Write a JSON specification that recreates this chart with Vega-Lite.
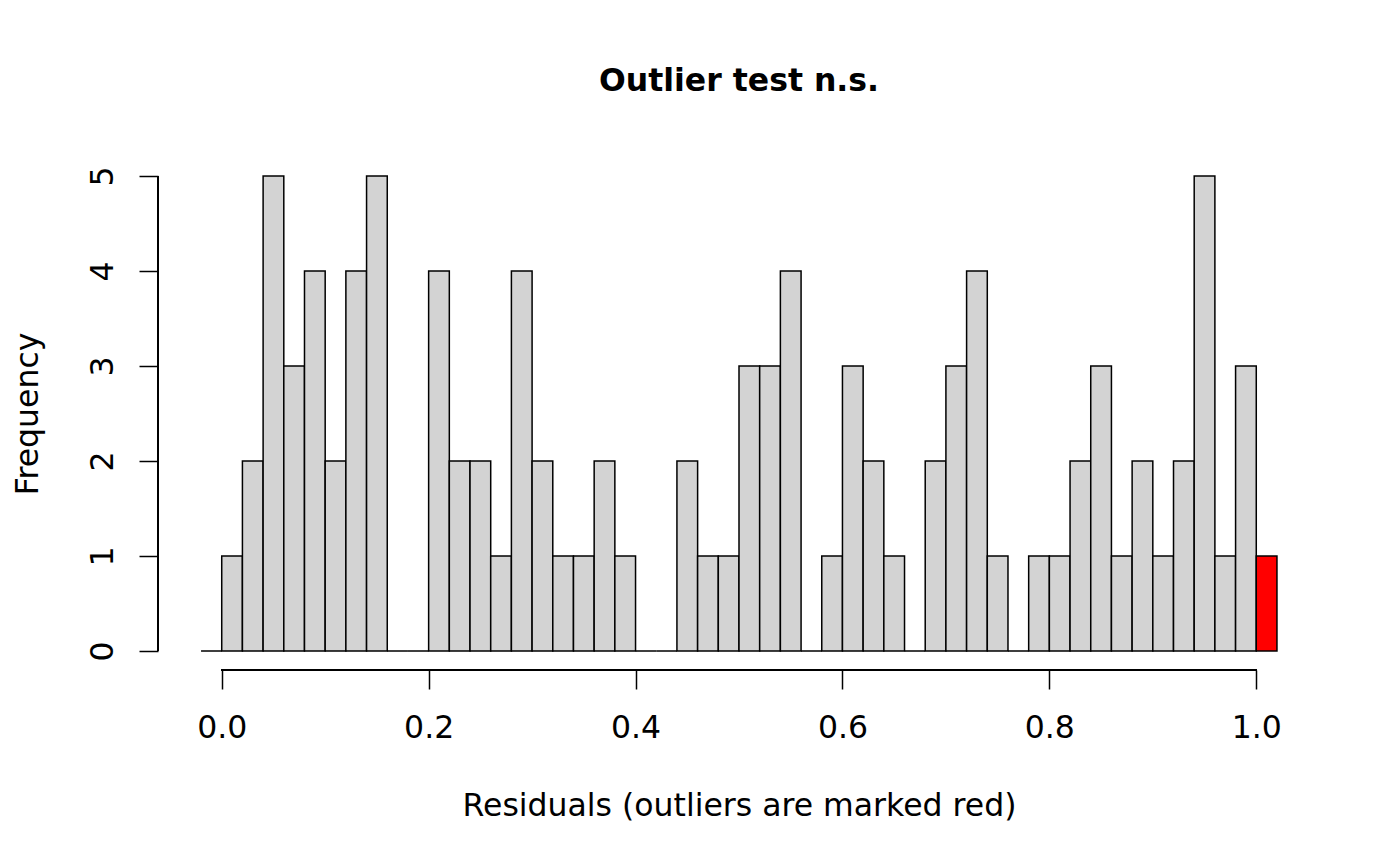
{
  "$schema": "https://vega.github.io/schema/vega-lite/v6.json",
  "autosize": "none",
  "width": 1162,
  "height": 513,
  "padding": {"left": 158, "top": 157, "right": 80, "bottom": 196},
  "background": "white",
  "config": {
    "view": {"stroke": null},
    "font": "DejaVu Sans"
  },
  "title": {
    "text": "Outlier test n.s.",
    "font": "DejaVu Sans",
    "fontSize": 31.5,
    "fontWeight": "bold",
    "color": "black",
    "anchor": "middle",
    "frame": "group",
    "baseline": "alphabetic",
    "offset": 35
  },
  "data": {
    "values": [
      {"bin_start": -0.02, "bin_end": 0.0, "count": 0, "type": "outlier"},
      {"bin_start": 0.00, "bin_end": 0.02, "count": 1, "type": "normal"},
      {"bin_start": 0.02, "bin_end": 0.04, "count": 2, "type": "normal"},
      {"bin_start": 0.04, "bin_end": 0.06, "count": 5, "type": "normal"},
      {"bin_start": 0.06, "bin_end": 0.08, "count": 3, "type": "normal"},
      {"bin_start": 0.08, "bin_end": 0.10, "count": 4, "type": "normal"},
      {"bin_start": 0.10, "bin_end": 0.12, "count": 2, "type": "normal"},
      {"bin_start": 0.12, "bin_end": 0.14, "count": 4, "type": "normal"},
      {"bin_start": 0.14, "bin_end": 0.16, "count": 5, "type": "normal"},
      {"bin_start": 0.16, "bin_end": 0.18, "count": 0, "type": "normal"},
      {"bin_start": 0.18, "bin_end": 0.20, "count": 0, "type": "normal"},
      {"bin_start": 0.20, "bin_end": 0.22, "count": 4, "type": "normal"},
      {"bin_start": 0.22, "bin_end": 0.24, "count": 2, "type": "normal"},
      {"bin_start": 0.24, "bin_end": 0.26, "count": 2, "type": "normal"},
      {"bin_start": 0.26, "bin_end": 0.28, "count": 1, "type": "normal"},
      {"bin_start": 0.28, "bin_end": 0.30, "count": 4, "type": "normal"},
      {"bin_start": 0.30, "bin_end": 0.32, "count": 2, "type": "normal"},
      {"bin_start": 0.32, "bin_end": 0.34, "count": 1, "type": "normal"},
      {"bin_start": 0.34, "bin_end": 0.36, "count": 1, "type": "normal"},
      {"bin_start": 0.36, "bin_end": 0.38, "count": 2, "type": "normal"},
      {"bin_start": 0.38, "bin_end": 0.40, "count": 1, "type": "normal"},
      {"bin_start": 0.40, "bin_end": 0.42, "count": 0, "type": "normal"},
      {"bin_start": 0.42, "bin_end": 0.44, "count": 0, "type": "normal"},
      {"bin_start": 0.44, "bin_end": 0.46, "count": 2, "type": "normal"},
      {"bin_start": 0.46, "bin_end": 0.48, "count": 1, "type": "normal"},
      {"bin_start": 0.48, "bin_end": 0.50, "count": 1, "type": "normal"},
      {"bin_start": 0.50, "bin_end": 0.52, "count": 3, "type": "normal"},
      {"bin_start": 0.52, "bin_end": 0.54, "count": 3, "type": "normal"},
      {"bin_start": 0.54, "bin_end": 0.56, "count": 4, "type": "normal"},
      {"bin_start": 0.56, "bin_end": 0.58, "count": 0, "type": "normal"},
      {"bin_start": 0.58, "bin_end": 0.60, "count": 1, "type": "normal"},
      {"bin_start": 0.60, "bin_end": 0.62, "count": 3, "type": "normal"},
      {"bin_start": 0.62, "bin_end": 0.64, "count": 2, "type": "normal"},
      {"bin_start": 0.64, "bin_end": 0.66, "count": 1, "type": "normal"},
      {"bin_start": 0.66, "bin_end": 0.68, "count": 0, "type": "normal"},
      {"bin_start": 0.68, "bin_end": 0.70, "count": 2, "type": "normal"},
      {"bin_start": 0.70, "bin_end": 0.72, "count": 3, "type": "normal"},
      {"bin_start": 0.72, "bin_end": 0.74, "count": 4, "type": "normal"},
      {"bin_start": 0.74, "bin_end": 0.76, "count": 1, "type": "normal"},
      {"bin_start": 0.76, "bin_end": 0.78, "count": 0, "type": "normal"},
      {"bin_start": 0.78, "bin_end": 0.80, "count": 1, "type": "normal"},
      {"bin_start": 0.80, "bin_end": 0.82, "count": 1, "type": "normal"},
      {"bin_start": 0.82, "bin_end": 0.84, "count": 2, "type": "normal"},
      {"bin_start": 0.84, "bin_end": 0.86, "count": 3, "type": "normal"},
      {"bin_start": 0.86, "bin_end": 0.88, "count": 1, "type": "normal"},
      {"bin_start": 0.88, "bin_end": 0.90, "count": 2, "type": "normal"},
      {"bin_start": 0.90, "bin_end": 0.92, "count": 1, "type": "normal"},
      {"bin_start": 0.92, "bin_end": 0.94, "count": 2, "type": "normal"},
      {"bin_start": 0.94, "bin_end": 0.96, "count": 5, "type": "normal"},
      {"bin_start": 0.96, "bin_end": 0.98, "count": 1, "type": "normal"},
      {"bin_start": 0.98, "bin_end": 1.00, "count": 3, "type": "normal"},
      {"bin_start": 1.00, "bin_end": 1.02, "count": 1, "type": "outlier"}
    ]
  },
  "layer": [
    {
      "mark": {"type": "rect", "stroke": "black", "strokeWidth": 1.5},
      "encoding": {
        "x": {
          "field": "bin_start",
          "type": "quantitative",
          "scale": {"domain": [-0.0616, 1.0616], "nice": false, "zero": false},
          "axis": {
            "title": "Residuals (outliers are marked red)",
            "values": [0, 0.2, 0.4, 0.6, 0.8, 1.0],
            "format": ".1f",
            "domain": false,
            "grid": false,
            "ticks": true,
            "tickSize": 19,
            "tickWidth": 1.5,
            "tickColor": "black",
            "labelFont": "DejaVu Sans",
            "labelFontSize": 31.5,
            "labelColor": "black",
            "labelBaseline": "alphabetic",
            "labelPadding": 48,
            "labelFlush": false,
            "labelOverlap": false,
            "titleFont": "DejaVu Sans",
            "titleFontSize": 31.5,
            "titleFontWeight": "normal",
            "titleColor": "black",
            "titleBaseline": "alphabetic",
            "titleAnchor": "middle",
            "titleX": 581,
            "titleY": 145
          }
        },
        "x2": {"field": "bin_end"},
        "y": {
          "field": "count",
          "type": "quantitative",
          "scale": {"domain": [-0.2, 5.2], "nice": false, "zero": false},
          "axis": {
            "title": "Frequency",
            "values": [0, 1, 2, 3, 4, 5],
            "format": "d",
            "domain": false,
            "grid": false,
            "ticks": true,
            "tickSize": 19,
            "tickWidth": 1.5,
            "tickColor": "black",
            "labelFont": "DejaVu Sans",
            "labelFontSize": 31.5,
            "labelColor": "black",
            "labelAngle": -90,
            "labelAlign": "center",
            "labelBaseline": "alphabetic",
            "labelPadding": 27,
            "labelFlush": false,
            "labelOverlap": false,
            "titleFont": "DejaVu Sans",
            "titleFontSize": 31.5,
            "titleFontWeight": "normal",
            "titleColor": "black",
            "titleAngle": -90,
            "titleBaseline": "alphabetic",
            "titleAlign": "center",
            "titleX": -121,
            "titleY": 256.5
          }
        },
        "y2": {"datum": 0},
        "fill": {
          "field": "type",
          "type": "nominal",
          "scale": {"domain": ["normal", "outlier"], "range": ["#D3D3D3", "#FF0000"]},
          "legend": null
        }
      }
    },
    {
      "mark": {"type": "rule", "color": "black", "strokeWidth": 1.5},
      "encoding": {
        "x": {"datum": 0},
        "x2": {"datum": 1},
        "y": {"datum": -0.2}
      }
    },
    {
      "mark": {"type": "rule", "color": "black", "strokeWidth": 1.5},
      "encoding": {
        "x": {"datum": -0.0616},
        "y": {"datum": 0},
        "y2": {"datum": 5}
      }
    }
  ]
}
